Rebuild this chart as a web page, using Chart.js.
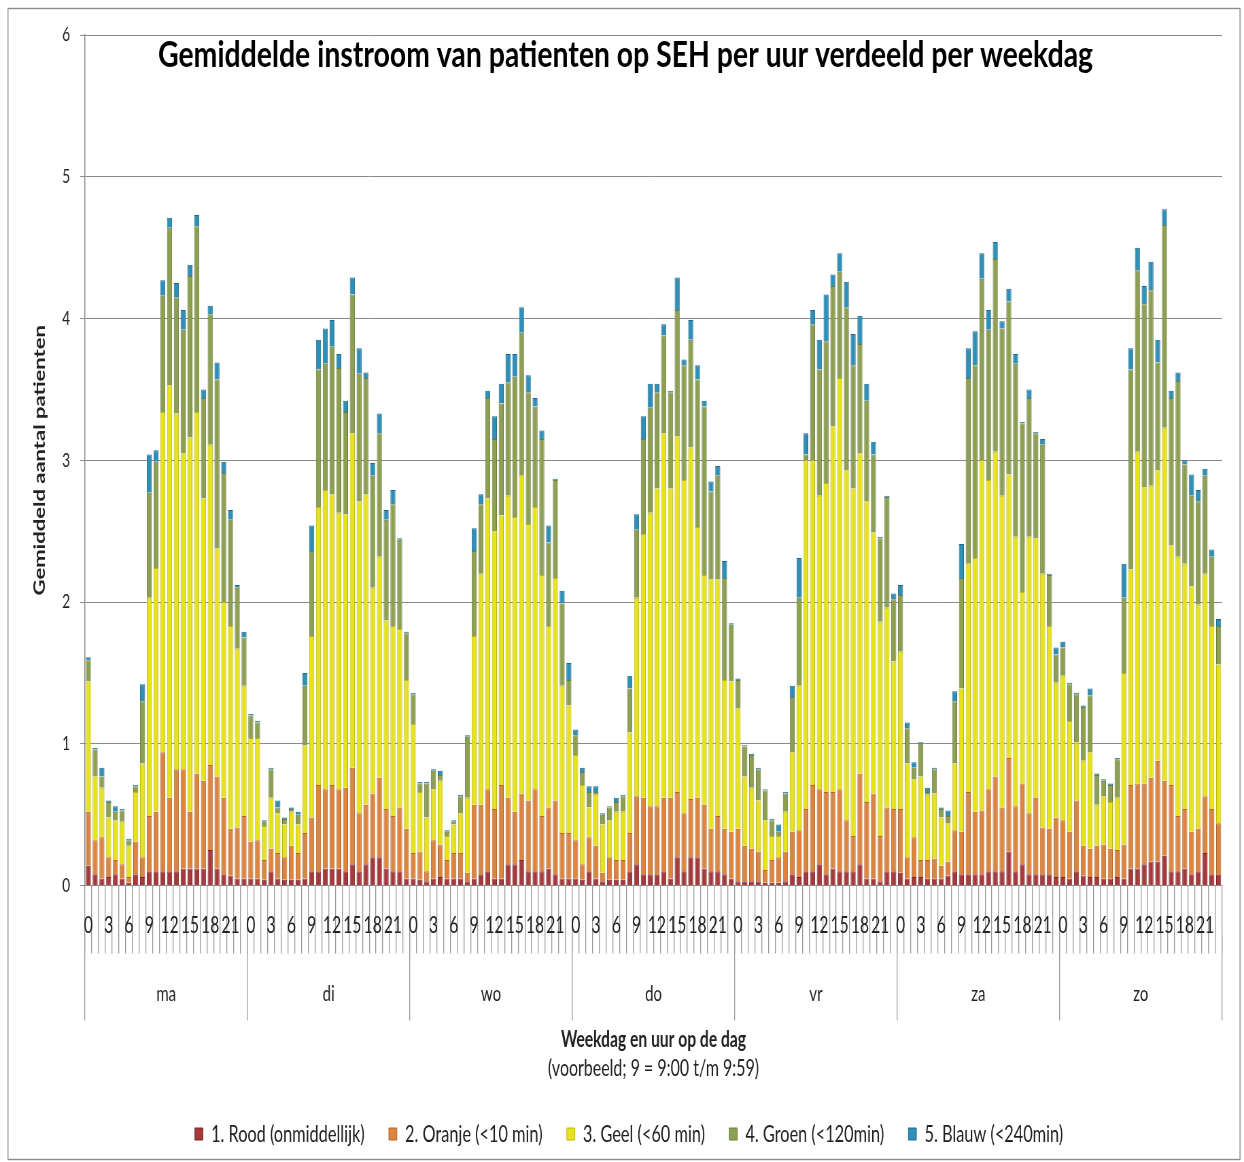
<!DOCTYPE html>
<html>
<head>
<meta charset="utf-8">
<script src="https://cdn.jsdelivr.net/npm/chart.js@4.4.1/dist/chart.umd.min.js"></script>
<style>
html,body{margin:0;padding:0;background:#fff;overflow:hidden}
#wrap{width:1244px;height:1162px;position:relative}
canvas{display:block}
</style>
</head>
<body>
<div id="wrap"><canvas id="c" width="1830" height="1162" style="width:1244px;height:1162px"></canvas></div>
<script>
// ---- categories ----
const days = ['ma', 'di', 'wo', 'do', 'vr', 'za', 'zo'];
const hours = ['0','1','2','3','4','5','6','7','8','9','10','11','12','13','14','15','16','17','18','19','20','21','22','23'];

// ---- series values per weekday (hour 0..23) ----
const roodMa   = [0.14,0.08,0.05,0.06,0.08,0.05,0.02,0.08,0.06,0.10,0.10,0.10,0.10,0.10,0.12,0.12,0.12,0.12,0.25,0.12,0.08,0.07,0.05,0.05];
const oranjeMa = [0.38,0.24,0.29,0.14,0.10,0.10,0.04,0.23,0.14,0.39,0.42,0.84,0.52,0.72,0.70,0.40,0.67,0.62,0.60,0.65,0.54,0.33,0.36,0.44];
const geelMa   = [0.92,0.45,0.35,0.28,0.28,0.30,0.22,0.35,0.66,1.54,1.72,2.40,2.91,2.51,2.23,2.64,2.55,1.99,2.26,1.61,1.38,1.43,1.26,0.92];
const groenMa  = [0.15,0.19,0.08,0.11,0.06,0.08,0.04,0.04,0.44,0.74,0.75,0.82,1.11,0.82,0.87,1.14,1.31,0.71,0.92,1.19,0.91,0.75,0.43,0.34];
const blauwMa  = [0.02,0.01,0.06,0.01,0.04,0.01,0.01,0.01,0.12,0.27,0.08,0.11,0.07,0.10,0.14,0.08,0.08,0.06,0.06,0.12,0.08,0.07,0.02,0.04];

const roodDi   = [0.05,0.05,0.04,0.10,0.05,0.04,0.04,0.04,0.05,0.10,0.10,0.12,0.12,0.12,0.10,0.15,0.10,0.15,0.20,0.20,0.12,0.10,0.10,0.05];
const oranjeDi = [0.26,0.27,0.14,0.16,0.18,0.16,0.24,0.19,0.32,0.38,0.61,0.56,0.59,0.56,0.59,0.68,0.41,0.42,0.45,0.56,0.42,0.39,0.45,0.35];
const geelDi   = [0.73,0.72,0.24,0.36,0.28,0.23,0.24,0.20,0.62,1.28,1.96,2.11,2.05,1.95,1.93,2.36,2.20,2.19,1.45,1.56,1.33,1.34,1.26,1.05];
const groenDi  = [0.16,0.11,0.03,0.20,0.04,0.04,0.02,0.07,0.42,0.60,0.97,0.89,1.04,1.02,0.72,0.98,0.90,0.82,0.79,0.87,0.71,0.86,0.63,0.33];
const blauwDi  = [0.01,0.01,0.01,0.01,0.05,0.01,0.01,0.02,0.09,0.18,0.21,0.25,0.19,0.10,0.08,0.12,0.18,0.04,0.09,0.14,0.07,0.10,0.01,0.01];

const roodWo   = [0.05,0.04,0.03,0.05,0.06,0.05,0.05,0.05,0.03,0.05,0.08,0.10,0.05,0.05,0.15,0.15,0.18,0.10,0.10,0.10,0.12,0.08,0.05,0.05];
const oranjeWo = [0.18,0.20,0.07,0.27,0.23,0.13,0.18,0.18,0.06,0.52,0.49,0.58,0.49,0.66,0.47,0.37,0.47,0.50,0.58,0.39,0.43,0.52,0.32,0.32];
const geelWo   = [0.91,0.42,0.38,0.36,0.45,0.17,0.20,0.28,0.53,1.19,1.63,2.05,1.96,1.90,2.13,2.08,2.24,1.95,1.99,1.70,1.28,1.57,1.04,0.90];
const groenWo  = [0.21,0.06,0.24,0.13,0.04,0.03,0.02,0.12,0.43,0.60,0.49,0.71,0.65,0.79,0.80,0.99,1.01,0.93,0.71,0.96,0.59,0.69,0.58,0.18];
const blauwWo  = [0.01,0.01,0.01,0.01,0.03,0.01,0.01,0.01,0.01,0.16,0.07,0.05,0.16,0.14,0.20,0.16,0.18,0.12,0.06,0.06,0.12,0.01,0.09,0.12];

const roodDo   = [0.05,0.04,0.10,0.05,0.03,0.04,0.04,0.04,0.10,0.15,0.08,0.08,0.08,0.10,0.05,0.20,0.10,0.20,0.20,0.12,0.10,0.10,0.08,0.05];
const oranjeDo = [0.27,0.11,0.24,0.23,0.06,0.16,0.14,0.14,0.27,0.48,0.54,0.48,0.48,0.52,0.57,0.46,0.41,0.41,0.42,0.45,0.30,0.39,0.32,0.33];
const geelDo   = [0.60,0.56,0.21,0.36,0.34,0.26,0.34,0.34,0.71,1.40,1.86,2.07,2.24,2.57,2.18,2.51,2.35,2.48,1.91,1.62,1.76,1.67,1.05,1.06];
const groenDo  = [0.14,0.09,0.11,0.02,0.07,0.09,0.07,0.11,0.31,0.48,0.67,0.74,0.68,0.69,0.68,0.89,0.81,0.76,1.04,1.19,0.62,0.73,0.72,0.40];
const blauwDo  = [0.04,0.03,0.04,0.04,0.01,0.01,0.03,0.01,0.09,0.11,0.16,0.17,0.06,0.08,0.01,0.23,0.04,0.14,0.10,0.04,0.07,0.07,0.12,0.01];

const roodVr   = [0.03,0.03,0.03,0.03,0.02,0.02,0.02,0.03,0.08,0.06,0.10,0.10,0.15,0.08,0.12,0.10,0.10,0.10,0.15,0.05,0.05,0.03,0.10,0.10];
const oranjeVr = [0.37,0.25,0.23,0.21,0.09,0.16,0.18,0.21,0.30,0.33,0.44,0.61,0.53,0.58,0.54,0.58,0.36,0.25,0.64,0.54,0.60,0.32,0.45,0.44];
const geelVr   = [0.85,0.49,0.43,0.36,0.35,0.17,0.15,0.28,0.56,1.02,2.46,2.29,2.07,2.18,2.58,2.90,2.47,2.45,2.26,2.12,1.84,1.51,1.41,1.04];
const groenVr  = [0.20,0.21,0.23,0.22,0.21,0.11,0.03,0.13,0.39,0.62,0.04,0.96,0.89,1.00,0.99,0.75,1.15,0.87,0.77,0.71,0.55,0.59,0.78,0.44];
const blauwVr  = [0.01,0.01,0.01,0.01,0.01,0.01,0.05,0.01,0.08,0.28,0.15,0.10,0.21,0.33,0.08,0.13,0.18,0.22,0.20,0.12,0.09,0.01,0.01,0.04];

const roodZa   = [0.09,0.05,0.06,0.06,0.05,0.05,0.05,0.07,0.10,0.08,0.08,0.08,0.08,0.10,0.10,0.10,0.24,0.10,0.15,0.08,0.08,0.08,0.08,0.06];
const oranjeZa = [0.45,0.15,0.28,0.12,0.13,0.14,0.09,0.10,0.29,0.30,0.58,0.44,0.45,0.58,0.67,0.45,0.66,0.46,0.57,0.43,0.54,0.33,0.32,0.42];
const geelZa   = [1.11,0.66,0.41,0.59,0.46,0.46,0.34,0.27,0.47,1.01,1.61,1.79,2.47,2.18,2.29,2.20,2.00,1.90,1.35,1.95,1.83,1.79,1.43,0.95];
const groenZa  = [0.40,0.25,0.08,0.23,0.02,0.17,0.06,0.05,0.44,0.78,1.31,1.36,1.28,1.06,1.36,1.18,1.22,1.22,1.19,0.98,0.74,0.91,0.36,0.20];
const blauwZa  = [0.07,0.04,0.04,0.01,0.03,0.01,0.01,0.04,0.07,0.24,0.21,0.24,0.18,0.14,0.12,0.05,0.09,0.07,0.01,0.06,0.01,0.04,0.01,0.05];

const roodZo   = [0.06,0.05,0.10,0.07,0.06,0.06,0.05,0.05,0.06,0.05,0.12,0.12,0.15,0.17,0.17,0.21,0.10,0.10,0.12,0.08,0.10,0.23,0.08,0.08];
const oranjeZo = [0.40,0.33,0.50,0.21,0.20,0.22,0.24,0.21,0.19,0.24,0.59,0.60,0.57,0.59,0.71,0.53,0.61,0.39,0.42,0.30,0.30,0.40,0.46,0.36];
const geelZo   = [1.02,0.78,0.41,0.60,0.68,0.29,0.34,0.33,0.37,1.21,1.52,2.34,2.09,2.06,2.05,2.49,1.69,1.83,1.73,1.73,1.58,1.57,1.29,1.12];
const groenZo  = [0.20,0.26,0.34,0.38,0.40,0.21,0.11,0.12,0.27,0.53,1.41,1.28,1.29,1.38,0.76,1.43,1.04,1.24,0.70,0.64,0.73,0.69,0.49,0.27];
const blauwZo  = [0.04,0.01,0.01,0.01,0.05,0.01,0.01,0.01,0.01,0.24,0.15,0.16,0.13,0.20,0.16,0.11,0.05,0.06,0.03,0.15,0.08,0.05,0.05,0.05];

// ---- texts ----
const titleText = 'Gemiddelde instroom van patienten op SEH per uur verdeeld per weekdag';
const xTitle1 = 'Weekdag en uur op de dag';
const xTitle2 = '(voorbeeld; 9 = 9:00 t/m 9:59)';
const yTitle = 'Gemiddeld aantal patienten';
const seriesNames = ['1. Rood (onmiddellijk)', '2. Oranje (<10 min)', '3. Geel (<60 min)', '4. Groen (<120min)', '5. Blauw (<240min)'];

// ---- assembled series (168 = 7 days x 24 hours) ----
const rood   = [].concat(roodMa, roodDi, roodWo, roodDo, roodVr, roodZa, roodZo);
const oranje = [].concat(oranjeMa, oranjeDi, oranjeWo, oranjeDo, oranjeVr, oranjeZa, oranjeZo);
const geel   = [].concat(geelMa, geelDi, geelWo, geelDo, geelVr, geelZa, geelZo);
const groen  = [].concat(groenMa, groenDi, groenWo, groenDo, groenVr, groenZa, groenZo);
const blauw  = [].concat(blauwMa, blauwDi, blauwWo, blauwDo, blauwVr, blauwZa, blauwZo);
const hourCategories = [].concat(...days.map(() => hours));

// horizontal condensing: bitmap is wider than the displayed canvas
const K = 1244 / 1830;
const X = v => v / K;

const fills   = ['#a6393c', '#db8541', '#e6e21e', '#8d9f52', '#2e8fb7'];
const borders = ['#7a2729', '#b2662c', '#bdb812', '#6b7c3a', '#1f6a8c'];

const decor = {
  id: 'decor',
  afterLayout(chart) {
    if (chart.legend) {
      chart.legend.left += X(18);
      chart.legend.right += X(18);
    }
  },
  beforeDraw(chart) {
    const ctx = chart.ctx;
    ctx.save();
    ctx.fillStyle = '#ffffff';
    ctx.fillRect(0, 0, chart.width, chart.height);
    ctx.strokeStyle = '#8c8c8c';
    ctx.lineWidth = 1.4;
    ctx.strokeRect(X(8), 8.5, X(1240 - 8), 1151);
    ctx.restore();
  },
  afterDraw(chart) {
    const ctx = chart.ctx;
    const ca = chart.chartArea;
    ctx.save();
    ctx.fillStyle = '#000000';
    ctx.textAlign = 'center';
    ctx.textBaseline = 'alphabetic';
    ctx.font = 'bold 36px Lato';
    const w = ctx.measureText(titleText).width;
    ctx.translate(X(625.5), 67);
    ctx.scale(X(935) / w, 1);
    ctx.fillText(titleText, 0, 0);
    ctx.restore();
    ctx.save();
    ctx.fillStyle = '#222222';
    ctx.textAlign = 'center';
    ctx.font = '23.5px Lato';
    ctx.textBaseline = 'middle';
    ctx.fillText(xTitle2, (ca.left + ca.right) / 2, 1068);
    ctx.restore();
  }
};

function build() {
  const datasets = [rood, oranje, geel, groen, blauw].map((d, i) => ({
    label: seriesNames[i],
    data: d,
    backgroundColor: fills[i],
    borderColor: borders[i],
    borderWidth: 1,
    categoryPercentage: 0.74,
    barPercentage: 1.0,
    xAxisID: 'x',
    yAxisID: 'y'
  }));

  new Chart(document.getElementById('c'), {
    type: 'bar',
    data: { labels: hourCategories, datasets },
    plugins: [decor],
    options: {
      responsive: false,
      animation: false,
      devicePixelRatio: 1,
      events: [],
      layout: { padding: { left: 0, right: X(1244 - 1222), top: 35, bottom: 6 } },
      plugins: {
        tooltip: { enabled: false },
        title: { display: false },
        legend: {
          position: 'bottom',
          labels: {
            boxWidth: X(8),
            boxHeight: 12,
            padding: X(24.25),
            color: '#222222',
            font: { family: 'Lato', size: 24 }
          }
        }
      },
      scales: {
        x: {
          type: 'category',
          stacked: true,
          offset: true,
          weight: 0,
          grid: { offset: true, drawOnChartArea: false, tickLength: 68, color: '#9a9a9a', lineWidth: 1.3 },
          border: { display: true, color: '#8a8a8a' },
          ticks: {
            autoSkip: false, maxRotation: 0, minRotation: 0, padding: -42,
            color: '#222222', font: { family: 'Lato', size: 23 },
            callback: (v, i) => (i % 3 === 0 ? hourCategories[i] : '')
          },
          afterFit: s => { s.height = 49; }
        },
        x2: {
          type: 'category',
          labels: days,
          position: 'bottom',
          offset: true,
          weight: 1,
          grid: { offset: true, drawOnChartArea: false, tickLength: 86, color: '#9a9a9a', lineWidth: 1.3 },
          border: { display: false },
          ticks: { autoSkip: false, maxRotation: 0, minRotation: 0, padding: -40, color: '#222222', font: { family: 'Lato', size: 22 } },
          title: { display: true, text: xTitle1, color: '#222222', font: { family: 'Lato', size: 23, weight: 'bold' }, padding: { top: 0, bottom: 32.5 } },
          afterFit: s => { s.height = 151.8; }
        },
        y: {
          stacked: true,
          min: 0,
          max: 6,
          ticks: { stepSize: 1, padding: 14.6, color: '#222222', font: { family: 'Lato', size: 20 } },
          grid: { color: '#8a8a8a', tickLength: X(5), lineWidth: 1 },
          border: { color: '#8a8a8a', width: 1.5 },
          title: { display: true, text: yTitle, color: '#222222', font: { family: 'Lato', size: 22, weight: 'bold' }, padding: { top: 45.6, bottom: 0 } },
          afterFit: s => { s.width = 125; }
        }
      }
    }
  });
}

Promise.all([
  document.fonts.load('bold 36px Lato'),
  document.fonts.load('21px Lato')
]).then(build, build);
</script>
</body>
</html>
